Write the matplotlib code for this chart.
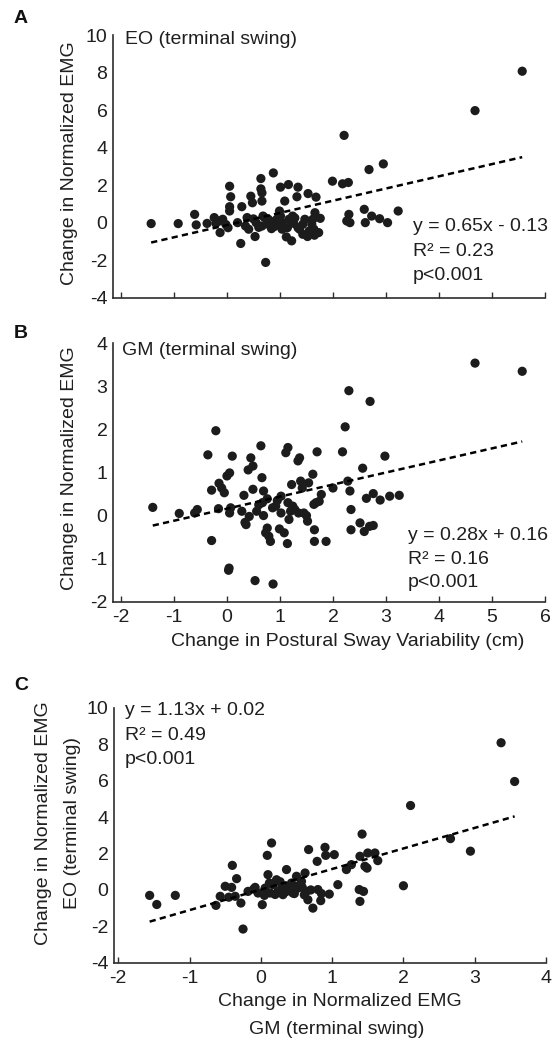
import matplotlib
matplotlib.use("Agg")
import matplotlib.pyplot as plt
import numpy as np

plt.rcParams['font.family'] = ['Liberation Sans', 'DejaVu Sans']
plt.rcParams['axes.unicode_minus'] = False

# ---------------- data ----------------
# Panel A: change in postural sway variability (cm) vs change in normalized EMG, EO
a_x = [-1.43, -0.92, -0.61, -0.58, -0.375, -0.24, -0.21, -0.14, -0.08, -0.13, 0.02, 0.05, 0.07, 0.05, 0.05,
       0.28, 0.26, 0.38, 0.35, 0.41, 0.45, 0.48, 0.53, 0.64, 0.64, 0.66, 0.66, 0.68, 0.66, 0.73, 0.78, 0.81,
       0.875, 0.84, 1.01, 0.99, 1.01, 1.04, 1.09, 1.12, 1.16, 1.17, 1.22, 1.24, 1.26, 1.32, 1.34, 1.37, 1.43,
       1.43, 1.52, 1.53, 1.62, 1.64, 1.65, 1.66, 1.68, 1.76, 1.99, 2.18, 2.29, 2.21, 2.26, 2.30, 2.32, 2.59,
       2.61, 2.68, 2.73, 2.88, 2.95, 3.03, 3.23, 4.68, 5.57,
       0.71, 0.78, 0.94, 1.04, 1.14, 1.34, 1.47, 1.60, 1.73, 0.55, 0.60, 0.90, 1.20, 0.50, 0.20, -0.02, 1.55,
       0.88, 1.28]
a_y = [-0.05, -0.05, 0.44, -0.12, -0.04, 0.27, -0.04, 0.09, 0.18, -0.53, -0.27, 1.94, 1.38, 0.85, 0.62,
       0.85, -1.11, 0.27, -0.18, -0.35, 1.41, 1.06, -0.74, 2.35, 1.80, 1.59, 1.15, 0.35, -0.18, -2.12, 0.18, -0.09,
       2.65, -0.32, 1.89, 0.62, 0.35, -0.35, 1.15, -0.76, 2.03, 0.18, -0.97, 0.35, -0.04, 1.38, 1.89, -0.35, -0.09,
       -0.62, -0.74, 1.55, 0.18, -0.35, -0.67, 0.53, 1.36, 0.23, 2.21, 2.07, 2.14, 4.65, 0.09, 0.44, 0.0, 0.71,
       0.0, 2.83, 0.35, 0.21, 3.13, 0.0, 0.62, 5.97, 8.07,
       0.27, -0.09, 0.18, 0.0, -0.27, -0.27, 0.18, -0.09, -0.53, 0.0, -0.25, -0.20, 0.10, 0.20, 0.0, -0.10, -0.45,
       0.05, 0.25]
fit_a = (0.65, -0.13)
text_a = ["y = 0.65x - 0.13", "R² = 0.23", "p<0.001"]

# Panel B: change in postural sway variability (cm) vs change in normalized EMG, GM
b_x = [-1.40, -0.90, -0.61, -0.56, -0.36, -0.29, -0.29, -0.21, -0.16, -0.15, -0.10, -0.05, 0.00, 0.05, 0.03,
       0.04, 0.07, 0.05, 0.10, 0.28, 0.32, 0.34, 0.36, 0.40, 0.42, 0.45, 0.49, 0.49, 0.53, 0.56, 0.64, 0.66,
       0.67, 0.69, 0.69, 0.73, 0.76, 0.76, 0.79, 0.82, 0.86, 0.87, 0.92, 0.99, 1.02, 1.02, 1.08, 1.11, 1.14,
       1.15, 1.15, 1.17, 1.22, 1.24, 1.28, 1.34, 1.37, 1.39, 1.42, 1.45, 1.50, 1.54, 1.62, 1.64, 1.65, 1.65,
       1.70, 1.74, 1.78, 1.87, 2.00, 2.18, 2.23, 2.28, 2.30, 2.32, 2.34, 2.34, 2.51, 2.56, 2.59, 2.63, 2.69,
       2.70, 2.76, 2.76, 2.89, 2.98, 3.07, 3.25, 4.68, 5.57,
       1.35, 1.52, 1.68, 0.60, 0.95, 1.20]
b_y = [0.19, 0.05, 0.06, 0.14, 1.41, 0.59, -0.58, 1.97, 0.16, 0.75, 0.64, 0.53, 0.92, 0.99, -1.27,
       -1.22, 0.18, 0.06, 1.38, 0.10, 0.47, -0.16, -0.21, 1.06, -0.02, 1.34, 1.15, 0.61, -1.51, 0.10, 1.62, 0.88,
       0.30, 0.57, 0.00, -0.40, -0.29, 0.39, -0.48, -0.60, 0.18, -1.59, 0.22, -0.31, 0.45, 0.06, -0.40, 1.46, -0.65,
       1.58, 0.30, -0.09, 0.72, 0.22, 0.14, 1.27, 1.34, 0.80, 0.64, 0.06, 0.00, 0.76, 0.96, 0.26, -0.33, -0.60,
       1.48, 0.33, 0.49, -0.60, 0.64, 1.48, 2.06, 0.80, 2.90, 0.57, 0.14, -0.33, -0.17, 1.10, -0.37, 0.40, -0.25,
       2.65, 0.51, -0.23, 0.36, 1.38, 0.45, 0.47, 3.54, 3.35,
       0.06, -0.13, 0.30, 0.25, 0.35, 0.10]
fit_b = (0.28, 0.16)
text_b = ["y = 0.28x + 0.16", "R² = 0.16", "p<0.001"]

# Panel C: change in normalized EMG GM vs EO (terminal swing)
c_x = [-1.56, -1.46, -1.20, -0.63, -0.57, -0.50, -0.41, -0.40, -0.34, -0.36, -0.28, -0.25, -0.18, -0.08, -0.04,
       0.02, 0.06, 0.09, 0.10, 0.13, 0.15, 0.17, 0.22, 0.24, 0.29, 0.31, 0.36, 0.38, 0.43, 0.45, 0.50, 0.52,
       0.57, 0.62, 0.64, 0.66, 0.67, 0.73, 0.79, 0.80, 0.84, 0.90, 0.91, 0.96, 1.03, 1.08, 1.20, 1.27, 1.38,
       1.39, 1.39, 1.42, 1.44, 1.46, 1.50, 1.49, 1.60, 1.64, 2.00, 2.10, 2.66, 2.94, 3.37, 3.56,
       0.61, 0.05, 0.20, 0.35, 0.40, 0.55, 0.47, 0.27, -0.10, 0.12, 0.70, 0.85, -0.45, 0.32, 0.58]
c_y = [-0.30, -0.80, -0.30, -0.85, -0.35, 0.20, 0.14, 1.35, 0.62, -0.35, -0.72, -2.15, -0.08, 0.14, -0.17,
       -0.81, 0.10, 1.90, 0.84, -0.17, 2.58, 0.29, 0.56, -0.08, 0.10, -0.26, 1.12, 0.20, 0.38, -0.17, 0.75, 0.10,
       0.47, 0.93, -0.08, -0.54, 2.22, -1.00, 1.57, 0.02, -0.59, 2.34, 1.90, -0.23, 1.94, 0.29, 1.12, 1.39, 0.02,
       1.85, -0.63, 3.07, -0.08, 1.30, 2.03, 1.20, 2.03, 1.61, 0.23, 4.64, 2.82, 2.13, 8.09, 5.96,
       -0.27, -0.30, -0.25, -0.10, 0.10, 0.30, -0.20, 0.45, 0.05, 0.38, 0.00, -0.20, -0.40, 0.00, 0.15]
fit_c = (1.13, 0.02)
text_c = ["y = 1.13x + 0.02", "R² = 0.49", "p<0.001"]

# ---------------- figure ----------------
W, H = 556, 1042
fig = plt.figure(figsize=(W / 100, H / 100), dpi=100)

def fx(px):
    return px / W

def fy(py):
    return 1 - py / H

dot_color = '#1c1c1c'
txt_color = '#1f1f1f'
axis_color = '#2e2e2e'
FS = 14

def setup(ax, xlim, ylim, xticks, yticks, xlabels=True):
    ax.set_xlim(*xlim)
    ax.set_ylim(*ylim)
    for s in ['top', 'right']:
        ax.spines[s].set_visible(False)
    for s in ['left', 'bottom']:
        ax.spines[s].set_linewidth(1.2)
        ax.spines[s].set_color(axis_color)
    ax.set_xticks(xticks)
    ax.set_yticks(yticks)
    ax.tick_params(axis='x', direction='in', length=4, width=1.0, color=axis_color,
                   labelsize=FS, labelcolor=txt_color, pad=5, labelbottom=xlabels)
    ax.tick_params(axis='y', length=0, labelsize=FS, labelcolor=txt_color, pad=4)
    ax.patch.set_alpha(0)

def draw(ax, xs, ys, fit):
    ax.scatter(xs, ys, s=44, color=dot_color, edgecolors='none', zorder=3, clip_on=False)
    xl = np.array([min(xs), max(xs)])
    ax.plot(xl, np.polyval(fit, xl), color='black', lw=1.8, ls=(0, (2.5, 1.7)), zorder=4)

# Panel A
axA = fig.add_axes([fx(113), fy(297.7), fx(545) - fx(113), fy(35) - fy(297.7)])
setup(axA, (-2.15, 6.0), (-4, 10), np.arange(-2, 7, 1), np.arange(-4, 11, 2), xlabels=False)
draw(axA, a_x, a_y, fit_a)

# Panel B
axB = fig.add_axes([fx(113), fy(601.7), fx(545) - fx(113), fy(343.3) - fy(601.7)])
setup(axB, (-2.15, 6.0), (-2, 4), np.arange(-2, 7, 1), np.arange(-2, 5, 1))
draw(axB, b_x, b_y, fit_b)

# Panel C
axC = fig.add_axes([fx(114), fy(962.7), fx(546) - fx(114), fy(708) - fy(962.7)])
setup(axC, (-2.06, 4.0), (-4, 10), np.arange(-2, 5, 1), np.arange(-4, 11, 2))
draw(axC, c_x, c_y, fit_c)

# Texts
def t(px, py, s, **kw):
    kw.setdefault('fontsize', FS)
    kw.setdefault('color', txt_color)
    fig.text(fx(px), fy(py), s, **kw)

# panel letters
t(21, 18.5, "A", ha='center', va='center', fontweight='bold', fontsize=14, color='#111111')
t(21, 333, "B", ha='center', va='center', fontweight='bold', fontsize=14, color='#111111')
t(21, 685, "C", ha='center', va='center', fontweight='bold', fontsize=14, color='#111111')

# inner titles
t(125, 40, "EO (terminal swing)", ha='left', va='center')
t(122, 350.7, "GM (terminal swing)", ha='left', va='center')

# equations
for line, py in zip(text_a, [227, 251.7, 276]):
    t(413, py, line, ha='left', va='center')
for line, py in zip(text_b, [535, 559.3, 582.3]):
    t(408, py, line, ha='left', va='center')
for line, py in zip(text_c, [710.7, 735, 760]):
    t(125, py, line, ha='left', va='center')

# axis labels
t(69, 163, "Change in Normalized EMG", ha='center', va='center', rotation=90)
t(69, 468, "Change in Normalized EMG", ha='center', va='center', rotation=90)
t(348, 641.7, "Change in Postural Sway Variability (cm)", ha='center', va='center')
t(44, 823, "Change in Normalized EMG", ha='center', va='center', rotation=90)
t(72.7, 823, "EO (terminal swing)", ha='center', va='center', rotation=90)
t(340, 1001, "Change in Normalized EMG", ha='center', va='center')
t(337, 1029.3, "GM (terminal swing)", ha='center', va='center')

fig.savefig("out.png", dpi=100, facecolor='white')
